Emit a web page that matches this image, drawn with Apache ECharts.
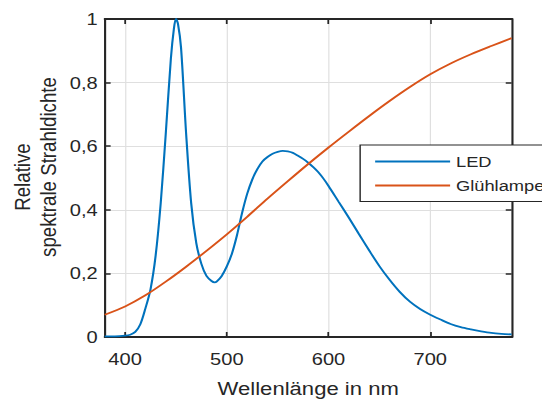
<!DOCTYPE html>
<html><head><meta charset="utf-8">
<script src="https://cdn.jsdelivr.net/npm/echarts@6/dist/echarts.min.js"></script>
<style>
html,body{margin:0;padding:0;background:#fff;overflow:hidden}
#wrap{width:542px;height:403px;overflow:hidden}
#c{width:459px;height:403px;transform:scaleX(1.1808);transform-origin:0 0}
</style>
</head><body><div id="wrap"><div id="c"></div></div>
<script>
const ledWavelengths = [380,390,400,405,410,415,420,425,430,435,440,445,448,450,452,455,460,465,470,475,480,485,488,490,495,500,505,510,515,520,525,530,535,540,545,550,555,560,565,570,575,580,585,590,595,600,610,620,630,640,650,660,670,680,690,700,710,720,730,740,750,760,770,780];
const ledValues = [0.002,0.002,0.004,0.007,0.016,0.040,0.090,0.150,0.255,0.420,0.640,0.875,0.970,1.0,0.985,0.910,0.640,0.420,0.295,0.230,0.192,0.176,0.172,0.174,0.192,0.222,0.262,0.320,0.390,0.450,0.495,0.528,0.552,0.566,0.576,0.582,0.585,0.584,0.579,0.570,0.560,0.548,0.534,0.518,0.498,0.475,0.425,0.375,0.323,0.272,0.223,0.180,0.142,0.111,0.088,0.070,0.055,0.041,0.031,0.024,0.018,0.013,0.010,0.008];
const lampWavelengths = [380,400,420,440,460,480,500,520,540,560,580,600,620,640,660,680,700,720,740,760,780];
const lampValues = [0.070,0.096,0.131,0.174,0.221,0.271,0.323,0.378,0.435,0.490,0.544,0.596,0.646,0.695,0.742,0.786,0.826,0.860,0.889,0.915,0.940];
const xTicks = [400,500,600,700];
const yTicks = [0,0.2,0.4,0.6,0.8,1];
const seriesNames = ['LED','Glühlampe'];
const yNameLines = ['Relative','spektrale Strahldichte'];
const xName = 'Wellenlänge in nm';

const txt = '#262626';
const font = 'Liberation Sans, Arial, sans-serif';
const chart = echarts.init(document.getElementById('c'), null, {renderer:'svg', width:459, height:403});
const pairs = (xs, ys) => xs.map((x,i)=>[x, ys[i]]);
const fmtY = v => String(Math.round(v*10)/10).replace('.', ',');
const gridSplit = {show:true, lineStyle:{color:'#dfdfdf', width:1}};
const axLine = {show:true, onZero:false, lineStyle:{color:txt, width:1.8}};
const axTick = {show:true, inside:true, length:5, lineStyle:{color:txt, width:1.5}};
chart.setOption({
  animation:false,
  backgroundColor:'#fff',
  textStyle:{fontFamily:font, color:txt},
  grid:{left:88.7, right:25.7, top:19, bottom:62, containLabel:false},
  legend:{
    orient:'vertical', left:305, top:145,
    data:seriesNames,
    icon:'rect', itemWidth:63.5, itemHeight:2, itemGap:6,
    padding:[7.5, 40, 7, 12.7],
    backgroundColor:'#fff', borderColor:txt, borderWidth:1.2, borderRadius:0,
    textStyle:{fontFamily:font, fontSize:15.5, color:txt, lineHeight:18}
  },
  graphic:[
    {type:'text', x:18.6, y:177, rotation:Math.PI/2, silent:true,
     style:{text:yNameLines[0], font:'18.7px Liberation Sans, Arial, sans-serif', fill:txt, align:'center', verticalAlign:'middle'}},
    {type:'text', x:40.7, y:167, rotation:Math.PI/2, silent:true,
     style:{text:yNameLines[1], font:'18.7px Liberation Sans, Arial, sans-serif', fill:txt, align:'center', verticalAlign:'middle'}}
  ],
  xAxis:[{
    type:'value', min:380, max:780, position:'bottom',
    name:xName, nameLocation:'middle', nameGap:42,
    nameTextStyle:{fontFamily:font, fontSize:18.7, color:txt},
    axisLine:axLine,
    axisTick:Object.assign({customValues:xTicks}, axTick),
    axisLabel:{customValues:xTicks, fontFamily:font, fontSize:17, color:txt, margin:14},
    splitLine:gridSplit
  },{
    type:'value', min:380, max:780, position:'top',
    axisLine:axLine,
    axisTick:Object.assign({customValues:xTicks}, axTick),
    axisLabel:{show:false}, splitLine:{show:false}
  }],
  yAxis:[{
    type:'value', min:0, max:1, interval:0.2, position:'left',
    axisLine:axLine, axisTick:axTick,
    axisLabel:{formatter:fmtY, fontFamily:font, fontSize:17, color:txt, margin:6},
    splitLine:gridSplit
  },{
    type:'value', min:0, max:1, interval:0.2, position:'right',
    axisLine:axLine, axisTick:axTick,
    axisLabel:{show:false}, splitLine:{show:false}
  }],
  series:[{
    name:seriesNames[0], type:'line', data:pairs(ledWavelengths, ledValues),
    showSymbol:false, symbol:'none', smooth:0.3,
    lineStyle:{color:'#0072BD', width:1.8}, itemStyle:{color:'#0072BD'}
  },{
    name:seriesNames[1], type:'line', data:pairs(lampWavelengths, lampValues),
    showSymbol:false, symbol:'none', smooth:0.3,
    lineStyle:{color:'#D95319', width:1.8}, itemStyle:{color:'#D95319'}
  }]
});
</script></body></html>
